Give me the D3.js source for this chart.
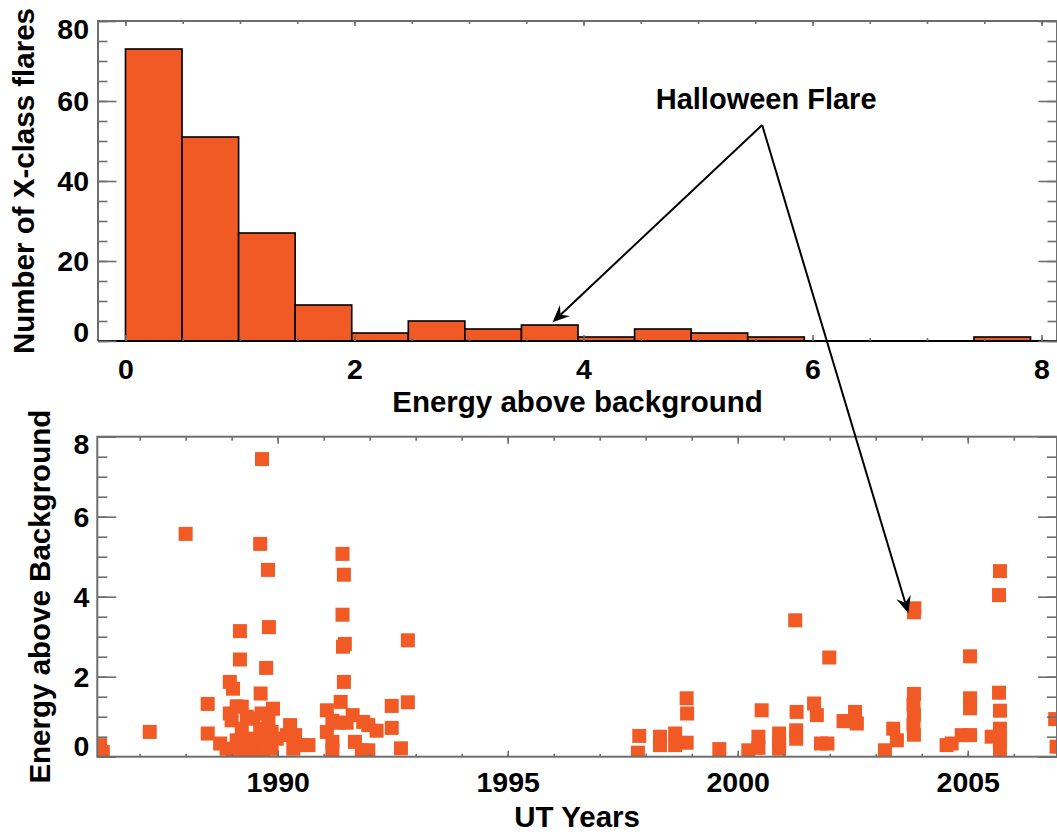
<!DOCTYPE html>
<html>
<head>
<meta charset="utf-8">
<script src="https://cdn.jsdelivr.net/npm/d3@7"></script>
<style>
  body { margin: 0; background: #fff; }
  svg text { font-family: "Liberation Sans", Arial, Helvetica, sans-serif; font-weight: bold; fill: #000; }
</style>
</head>
<body>
<svg id="chart" width="1057" height="834"></svg>
<script>
// ---- histogram of X-class flare energies ----
const binWidth = 0.494;
const binCounts = [73, 51, 27, 9, 2, 5, 3, 4, 1, 3, 2, 1, 0, 0, 0, 1];
const energyTicks = [0, 2, 4, 6, 8];
const countTicks = [0, 20, 40, 60, 80];

// ---- individual flares: time vs energy above background ----
const flareYears = [
  1986.14, 1986.20, 1987.22, 1988.00, 1988.48, 1988.48, 1988.75, 1988.89, 1988.96, 1989.03,
  1988.96, 1989.00, 1989.03, 1989.11, 1989.22, 1989.11, 1989.18, 1989.18, 1989.22, 1989.22,
  1989.33, 1989.33, 1989.47, 1989.47, 1989.58, 1989.62, 1989.62, 1989.63, 1989.65, 1989.66,
  1989.69, 1989.75, 1989.76, 1989.79, 1989.81, 1989.80, 1989.87, 1989.87, 1989.90, 1989.98,
  1990.20, 1990.27, 1990.34, 1990.38, 1990.55, 1990.67, 1991.07, 1991.07, 1991.19, 1991.19,
  1991.19, 1991.37, 1991.41, 1991.44, 1991.41, 1991.42, 1991.46, 1991.44, 1991.30, 1991.50,
  1991.63, 1991.86, 1991.97, 1992.15, 1991.68, 1991.83, 1991.97, 1992.48, 1992.48, 1992.68,
  1992.83, 1992.83, 1997.83, 1997.86, 1998.31, 1998.31, 1998.64, 1998.64, 1998.89, 1998.90,
  1998.89, 1999.60, 2000.23, 2000.45, 2000.45, 2000.52, 2000.90, 2000.90, 2000.90, 2001.25,
  2001.28, 2001.27, 2001.27, 2001.66, 2001.72, 2001.81, 2001.95, 2001.99, 2002.30, 2002.37,
  2002.55, 2002.59, 2003.20, 2003.38, 2003.46, 2003.83, 2003.84, 2003.83, 2003.82, 2003.83,
  2003.82, 2003.83, 2004.54, 2004.65, 2004.87, 2005.05, 2005.05, 2005.05, 2005.05, 2005.52,
  2005.70, 2005.68, 2005.68, 2005.70, 2005.70, 2005.70, 2005.70, 2006.90, 2006.93
];
const flareEnergies = [
  0.29, 0.12, 0.62, 5.57, 1.32, 0.58, 0.33, 0.20, 1.87, 1.70,
  1.08, 0.91, 0.16, 1.26, 1.25, 0.41, 3.14, 2.43, 0.70, 0.16,
  0.45, 1.00, 0.95, 0.16, 0.41, 5.32, 0.70, 1.58, 1.08, 7.44,
  0.12, 2.22, 0.29, 4.67, 3.24, 0.91, 0.62, 0.20, 1.20, 0.45,
  0.54, 0.79, 0.20, 0.54, 0.29, 0.29, 1.16, 0.62, 0.90, 0.37,
  0.16, 1.37, 5.07, 4.55, 3.55, 2.75, 2.82, 1.87, 0.85, 0.85,
  1.04, 0.87, 0.79, 0.65, 0.37, 0.16, 0.16, 1.27, 0.72, 0.21,
  2.91, 1.36, 0.10, 0.52, 0.50, 0.29, 0.58, 0.29, 1.46, 1.08,
  0.35, 0.19, 0.16, 0.50, 0.22, 1.16, 0.58, 0.35, 0.20, 3.41,
  1.12, 0.66, 0.45, 1.33, 1.04, 0.33, 0.33, 2.48, 0.89, 0.89,
  1.12, 0.83, 0.16, 0.70, 0.41, 3.61, 3.71, 1.57, 1.30, 1.05,
  0.80, 0.55, 0.29, 0.33, 0.54, 0.54, 2.51, 1.46, 1.21, 0.50,
  4.64, 4.04, 1.60, 1.15, 0.70, 0.41, 0.16, 0.94, 0.25
];
const yearTicks = [1990, 1995, 2000, 2005];
const energyAxisTicks = [0, 2, 4, 6, 8];

// Annotation anchors (data units of each panel)
const annotationText = "Halloween Flare";
const annotationApex = [5.56, 54];           // histogram panel
const annotationTipHist = [3.73, 4.7];       // histogram panel
const annotationTipFlare = [2003.71, 3.585]; // scatter panel

const ORANGE = "#F15A24";
const AXIS = "#6e6e6e";
const TICK_FONT = 28.5;
const TITLE_FONT = 29.5;

const svg = d3.select("#chart");
svg.append("rect").attr("width", 1057).attr("height", 834).attr("fill", "#fff");

// generic in-pointing tick set built with a d3 axis
function tickSet(parent, axisFn, scale, tf, values, len, labels, pad) {
  const gen = axisFn(scale).tickValues(values).tickSize(-len).tickSizeOuter(0)
    .tickPadding(pad || 0).tickFormat(labels ? d3.format("d") : "");
  const g = parent.append("g").attr("transform", tf).call(gen);
  g.select(".domain").remove();
  g.attr("font-family", null).attr("font-size", TICK_FONT);
  g.selectAll(".tick line").attr("stroke", AXIS).attr("stroke-width", 1.6);
  g.selectAll(".tick text").attr("fill", "#000");
  return g;
}
const minorRange = (a, b, step) => d3.range(Math.round((b - a) / step) + 1).map(i => +(a + i * step).toFixed(4));

// ================= histogram panel =================
const xH = d3.scaleLinear().domain([-0.24, 8.135]).range([98, 1057]);
const yH = d3.scaleLinear().domain([0, 80]).range([341, 21]);
const histPanel = svg.append("g");

const bins = binCounts.map((c, i) => ({ x0: i * binWidth, x1: (i + 1) * binWidth, count: c }));
histPanel.selectAll("rect.bar").data(bins.filter(d => d.count > 0)).join("rect")
  .attr("class", "bar")
  .attr("x", d => xH(d.x0)).attr("width", d => xH(d.x1) - xH(d.x0))
  .attr("y", d => yH(d.count)).attr("height", d => yH(0) - yH(d.count))
  .attr("fill", ORANGE).attr("stroke", "#000").attr("stroke-width", 1.6);

// frame
histPanel.append("path")
  .attr("d", `M${xH.range()[0]},${yH(0)}V${yH(80)}H${xH.range()[1]}V${yH(0)}`)
  .attr("fill", "none").attr("stroke", AXIS).attr("stroke-width", 2);
// histogram baseline
histPanel.append("line").attr("x1", xH.range()[0]).attr("x2", xH.range()[1])
  .attr("y1", yH(0)).attr("y2", yH(0)).attr("stroke", "#000").attr("stroke-width", 2.2);

// y ticks (left with labels, right without)
const yLab = tickSet(histPanel, d3.axisLeft, yH, `translate(${xH.range()[0]},0)`, countTicks, 18.5, true, 9);
yLab.selectAll(".tick text").attr("y", d => d === 80 ? 8 : d === 0 ? -9 : 0);
tickSet(histPanel, d3.axisLeft, yH, `translate(${xH.range()[0]},0)`, minorRange(0, 80, 5), 9.5, false);
tickSet(histPanel, d3.axisRight, yH, `translate(${xH.range()[1]},0)`, countTicks, 18.5, false);
tickSet(histPanel, d3.axisRight, yH, `translate(${xH.range()[1]},0)`, minorRange(0, 80, 5), 9.5, false);
// x ticks
tickSet(histPanel, d3.axisTop, xH, `translate(0,${yH(80)})`, energyTicks, 5, false);
tickSet(histPanel, d3.axisTop, xH, `translate(0,${yH(80)})`, minorRange(0, 8, 0.5), 3, false);
tickSet(histPanel, d3.axisBottom, xH, `translate(0,${yH(0)})`, minorRange(0, 8, 0.5), 3, false);
tickSet(histPanel, d3.axisBottom, xH, `translate(0,${yH(0)})`, energyTicks, 6, true, 18);

histPanel.append("text").attr("x", (xH.range()[0] + xH.range()[1]) / 2).attr("y", 411.5)
  .attr("text-anchor", "middle").attr("font-size", TITLE_FONT).text("Energy above background");
histPanel.append("text").attr("transform", `translate(34,${(yH(0) + yH(80)) / 2}) rotate(-90)`)
  .attr("text-anchor", "middle").attr("font-size", TITLE_FONT).text("Number of X-class flares");

// ================= scatter panel =================
const xS = d3.scaleLinear().domain([1986.08, 2006.94]).range([97.3, 1057]);
const yS = d3.scaleLinear().domain([0, 8]).range([756.7, 436.7]);
const flarePanel = svg.append("g");

svg.append("clipPath").attr("id", "plotClip").append("rect")
  .attr("x", xS.range()[0]).attr("y", yS(8))
  .attr("width", xS.range()[1] - xS.range()[0]).attr("height", yS(0) - yS(8));

const flares = flareYears.map((t, i) => ({ t, e: flareEnergies[i] }));
const SQ = 14;
flarePanel.append("g").attr("clip-path", "url(#plotClip)")
  .selectAll("rect").data(flares).join("rect")
  .attr("x", d => xS(d.t) - SQ / 2).attr("y", d => yS(d.e) - SQ / 2)
  .attr("width", SQ).attr("height", SQ).attr("fill", ORANGE);

flarePanel.append("rect").attr("x", xS.range()[0]).attr("y", yS(8))
  .attr("width", xS.range()[1] - xS.range()[0]).attr("height", yS(0) - yS(8))
  .attr("fill", "none").attr("stroke", AXIS).attr("stroke-width", 2);

const yLabB = tickSet(flarePanel, d3.axisLeft, yS, `translate(${xS.range()[0]},0)`, energyAxisTicks, 19, true, 8);
yLabB.selectAll(".tick text").attr("y", d => d === 8 ? 8 : d === 0 ? -10 : 1);
tickSet(flarePanel, d3.axisLeft, yS, `translate(${xS.range()[0]},0)`, minorRange(0, 8, 0.5), 10, false);
tickSet(flarePanel, d3.axisRight, yS, `translate(${xS.range()[1]},0)`, energyAxisTicks, 19, false);
tickSet(flarePanel, d3.axisRight, yS, `translate(${xS.range()[1]},0)`, minorRange(0, 8, 0.5), 10, false);
tickSet(flarePanel, d3.axisTop, xS, `translate(0,${yS(8)})`, yearTicks, 7, false);
tickSet(flarePanel, d3.axisTop, xS, `translate(0,${yS(8)})`, d3.range(1987, 2007), 4, false);
tickSet(flarePanel, d3.axisBottom, xS, `translate(0,${yS(0)})`, d3.range(1987, 2007), 3, false);
tickSet(flarePanel, d3.axisBottom, xS, `translate(0,${yS(0)})`, yearTicks, 6, true, 15);

flarePanel.append("text").attr("x", (xS.range()[0] + xS.range()[1]) / 2).attr("y", 826.5)
  .attr("text-anchor", "middle").attr("font-size", TITLE_FONT).text("UT Years");
flarePanel.append("text").attr("transform", `translate(50,${(yS(0) + yS(8)) / 2}) rotate(-90)`)
  .attr("text-anchor", "middle").attr("font-size", TITLE_FONT).text("Energy above Background");

// ================= annotation =================
const apex = [xH(annotationApex[0]), yH(annotationApex[1])];
const tipA = [xH(annotationTipHist[0]), yH(annotationTipHist[1])];
const tipB = [xS(annotationTipFlare[0]), yS(annotationTipFlare[1])];

svg.append("text").attr("x", apex[0] + 4).attr("y", 109.3)
  .attr("text-anchor", "middle").attr("font-size", 29).text(annotationText);

function arrow(from, to) {
  const dx = to[0] - from[0], dy = to[1] - from[1];
  const L = Math.hypot(dx, dy), ux = dx / L, uy = dy / L, px = -uy, py = ux;
  const len = 17, half = 7.5, notch = 11;
  const back = [to[0] - ux * len, to[1] - uy * len];
  const mid = [to[0] - ux * notch, to[1] - uy * notch];
  svg.append("line").attr("x1", from[0]).attr("y1", from[1])
    .attr("x2", mid[0]).attr("y2", mid[1]).attr("stroke", "#000").attr("stroke-width", 2);
  svg.append("path")
    .attr("d", `M${to[0]},${to[1]}L${back[0] + px * half},${back[1] + py * half}L${mid[0]},${mid[1]}L${back[0] - px * half},${back[1] - py * half}Z`)
    .attr("fill", "#000");
}
arrow(apex, tipA);
arrow(apex, tipB);
</script>
</body>
</html>
